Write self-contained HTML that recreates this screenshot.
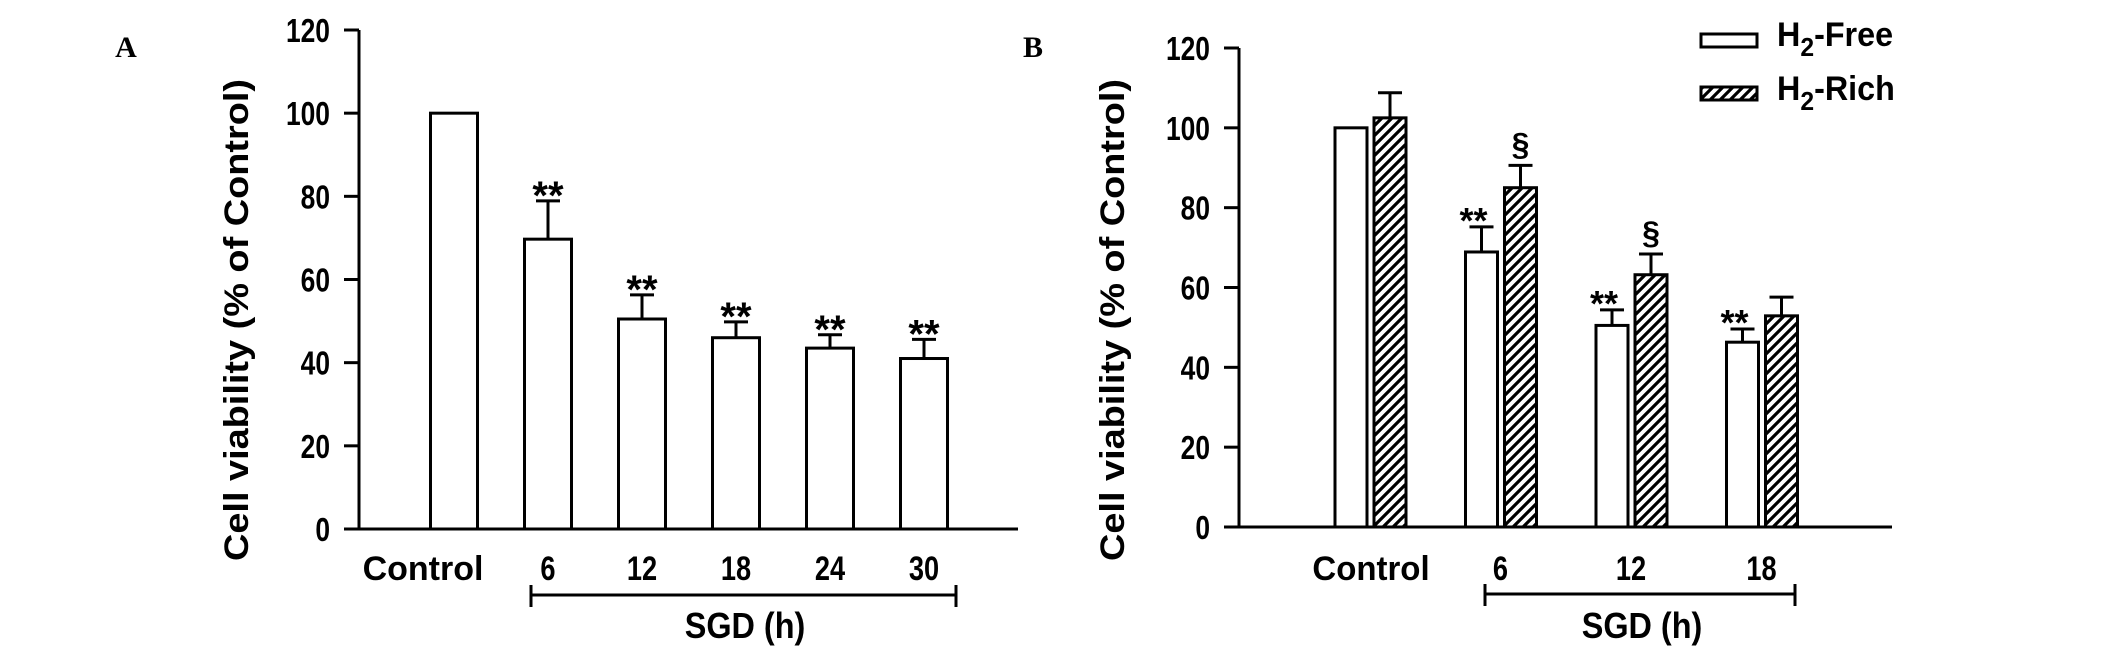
<!DOCTYPE html>
<html><head><meta charset="utf-8"><style>
html,body{margin:0;padding:0;background:#fff;}
svg{display:block;font-family:"Liberation Sans",Arial,sans-serif;}
</style></head><body>
<svg id="fig" width="2126" height="657" viewBox="0 0 2126 657">
<defs>
<pattern id="hatch" patternUnits="userSpaceOnUse" width="10" height="10">
<path d="M-2,12 L12,-2 M-7,7 L7,-7 M3,17 L17,3" stroke="#000" stroke-width="3.2"/>
</pattern>
</defs>
<g id="gA"></g>
<g id="gB"></g>
</svg>
<script>
// Panel A data
const catsA = ["Control","6","12","18","24","30"];
const valsA = [100, 69.7, 50.5, 46, 43.5, 41];
const errA = [0, 78.9, 56.3, 49.8, 46.7, 45.6];
const sigA = ["", "**", "**", "**", "**", "**"];
const ticksA = [0,20,40,60,80,100,120];
// Panel B data
const catsB = ["Control","6","12","18"];
const freeB = [100, 68.9, 50.5, 46.3];
const freeErrB = [0, 75.2, 54.4, 49.6];
const richB = [102.5, 85, 63.2, 52.9];
const richErrB = [108.8, 90.6, 68.4, 57.6];
const freeSigB = ["", "**", "**", "**"];
const richSigB = ["", "§", "§", ""];
const ticksB = [0,20,40,60,80,100,120];

const NS="http://www.w3.org/2000/svg";
function mk(parent,tag,attrs,text){const e=document.createElementNS(NS,tag);for(const k in attrs)e.setAttribute(k,attrs[k]);if(text!==undefined)e.textContent=text;parent.appendChild(e);return e;}
function ctext(g,x,y,t,size,anchor,sx){
  return mk(g,'text',{x:0,y:0,'text-anchor':anchor,'font-size':size,'font-weight':'bold',transform:`translate(${x},${y}) scale(${sx||0.8},1)`},t);
}

function axes(g,ax,y0,y120,xEnd,ticks,titleX){
  const ys=v=>y0-(v/120)*(y0-y120);
  let l=mk(g,'line',{x1:ax,y1:y0,x2:ax,y2:y120,stroke:'#000','stroke-width':3});
  
  
  l=mk(g,'line',{x1:ax-15,y1:y0,x2:xEnd,y2:y0,stroke:'#000','stroke-width':3});
  
  
  ticks.forEach(t=>{
    const y=ys(t);
    const tk=mk(g,'line',{x1:ax-15,y1:y,x2:ax,y2:y,stroke:'#000','stroke-width':3});
    
    
    const tx=ctext(g,ax-29,y+12,String(t),33,'end',0.8);
    
    
  });
  const ti=mk(g,'text',{x:0,y:0,'text-anchor':'middle','font-size':34,'font-weight':'bold',textLength:482,lengthAdjust:'spacingAndGlyphs',transform:`translate(${titleX},320) rotate(-90)`},'Cell viability (% of Control)');
  
  
  return ys;
}
function bar(g,x,w,ys,v,e,fill,name){
  const y0=ys(0),y=ys(v);
  const r=mk(g,'rect',{x:x,y:y,width:w,height:y0-y,fill:fill,stroke:'#000','stroke-width':3});
  
  
  if(e>v){
    const ye=ys(e),cx=x+w/2;
    const el=mk(g,'path',{d:`M${cx},${y} L${cx},${ye} M${cx-12},${ye} L${cx+12},${ye}`,stroke:'#000','stroke-width':3,fill:'none'});
    
    
  }
}
function label(g,x,y,t,size,name){
  const tx=mk(g,'text',{x:x,y:y,'text-anchor':'middle','font-size':size,'font-weight':'bold'},t);
  
  
  return tx;
}
function bracket(g,x1,x2,y,cx){
  const p=mk(g,'path',{d:`M${x1},${y} L${x2},${y} M${x1},${y-10} L${x1},${y+12} M${x2},${y-10} L${x2},${y+12}`,stroke:'#000','stroke-width':3,fill:'none'});
  
  
  const t=ctext(g,cx,638,'SGD (h)',36,'middle',0.9);
  
  
}

// Panel A
const gA=document.getElementById('gA');
const ysA=axes(gA,359,529,30,1018,ticksA,248);
const pl=mk(gA,'text',{x:126,y:57,'text-anchor':'middle','font-size':30,'font-weight':'bold','font-family':'Liberation Serif, serif'},'A');


catsA.forEach((c,i)=>{
  const cx=454+i*94;
  bar(gA,cx-23.5,47,ysA,valsA[i],errA[i],'#fff','bar-'+c);
  if(sigA[i])label(gA,cx,ysA(errA[i])+8,sigA[i],40,'significance-mark');
  let t;
  if(i===0)t=ctext(gA,423,580,c,34,'middle',1.0);
  else t=ctext(gA,cx,580,c,34,'middle',0.8);
  
  
});
bracket(gA,531,956,595,745);

// Panel B
const gB=document.getElementById('gB');
const ysB=axes(gB,1239,527,48,1892,ticksB,1124);
const pb=mk(gB,'text',{x:1033,y:57,'text-anchor':'middle','font-size':30,'font-weight':'bold','font-family':'Liberation Serif, serif'},'B');


catsB.forEach((c,i)=>{
  const cx=1370+i*130.5;
  bar(gB,cx-35,32,ysB,freeB[i],freeErrB[i],'#fff','bar-free-'+c);
  bar(gB,cx+4,32,ysB,richB[i],richErrB[i],'url(#hatch)','bar-rich-'+c);
  if(freeSigB[i])label(gB,cx-27,ysB(freeErrB[i])+6,freeSigB[i],36,'significance-mark');
  if(richSigB[i])label(gB,cx+20,ysB(richErrB[i])-10,richSigB[i],32,'section-mark');
  let t;
  if(i===0)t=ctext(gB,1371,580,c,34,'middle',0.97);
  else t=ctext(gB,cx,580,c,34,'middle',0.8);
  
  
});
bracket(gB,1485,1795,594,1642);

// Legend
const lg=mk(gB,'g',{});


[['H','2','-Free','#fff',34,46],['H','2','-Rich','url(#hatch)',87,100]].forEach(d=>{
  const r=mk(lg,'rect',{x:1701,y:d[4],width:56,height:13,fill:d[3],stroke:'#000','stroke-width':3});
  
  
  const t=mk(lg,'text',{x:0,y:0,'font-size':34,'font-weight':'bold',transform:`translate(1777,${d[5]}) scale(0.95,1)`});
  
  
  mk(t,'tspan',{},d[0]);
  mk(t,'tspan',{dy:10,'font-size':26},d[1]);
  mk(t,'tspan',{dy:-10},d[2]);
});
</script>
</body></html>
